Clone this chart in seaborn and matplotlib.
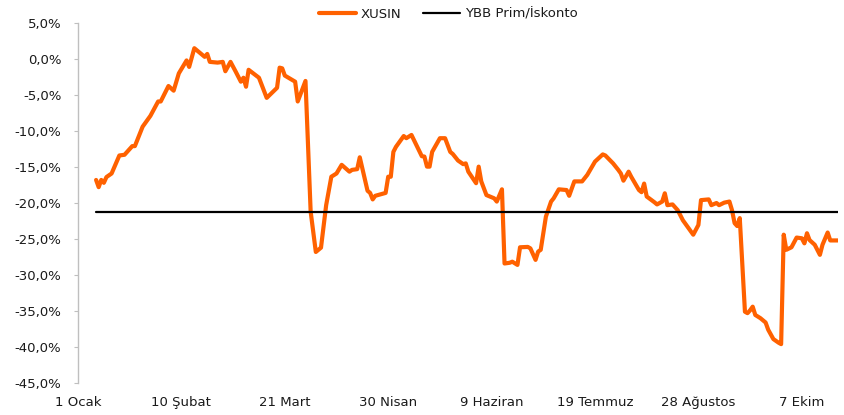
import matplotlib
matplotlib.use("Agg")
import matplotlib.pyplot as plt
import matplotlib.ticker as mticker
import seaborn as sns
import pandas as pd

# ---- data ----
start_date = "2016-01-01"
days = [7, 8, 9, 10, 11, 13, 16, 18, 21, 22, 25, 28, 31, 32, 35, 37, 39, 42, 43, 45,
        49, 50, 51, 54, 56, 57, 59, 61, 63, 64, 65, 66, 70, 73, 77, 78, 79, 80, 84, 85,
        88, 90, 92, 94, 96, 98, 100, 102, 105, 106, 108, 109, 112, 113, 114, 115, 119, 120, 121, 122,
        123, 126, 127, 129, 133, 134, 135, 136, 137, 140, 142, 144, 145, 147, 149, 150, 151, 154, 155, 156,
        158, 161, 162, 164, 165, 167, 168, 170, 171, 174, 175, 177, 178, 179, 181, 183, 184, 186, 189, 190,
        192, 195, 197, 200, 203, 204, 207, 209, 210, 211, 213, 214, 217, 218, 219, 220, 223, 224, 226, 227,
        228, 230, 232, 234, 236, 238, 240, 241, 244, 245, 247, 248, 250, 252, 253, 254, 255, 256, 258, 259,
        260, 261, 262, 264, 266, 267, 269, 271, 272, 273, 274, 276, 278, 280, 281, 282, 283, 285, 287, 288,
        290, 291, 294]
xusin = [-16.8, -17.8, -16.8, -17.2, -16.4, -15.9, -13.4, -13.3, -12.1, -12.1, -9.4, -7.9, -5.9, -5.9, -3.75, -4.4, -2.0, -0.2, -1.1, 1.5,
         0.3, 0.7, -0.4, -0.5, -0.4, -1.7, -0.4, -1.75, -3.15, -2.6, -3.85, -1.5, -2.6, -5.4, -4.0, -1.2, -1.3, -2.3, -3.15, -5.9,
         -3.05, -21.2, -26.8, -26.2, -20.3, -16.35, -15.9, -14.7, -15.65, -15.4, -15.3, -13.65, -18.3, -18.6, -19.5, -19.0, -18.6, -16.35, -16.35, -12.9,
         -12.2, -10.7, -11.0, -10.55, -13.5, -13.55, -14.95, -14.95, -12.9, -11.0, -11.0, -12.9, -13.2, -14.1, -14.6, -14.5, -15.65, -17.25, -14.95, -17.0,
         -18.9, -19.35, -19.8, -18.1, -28.4, -28.3, -28.15, -28.6, -26.15, -26.1, -26.3, -27.9, -26.75, -26.5, -21.9, -19.8, -19.35, -18.1, -18.2, -19.0,
         -17.0, -17.0, -16.1, -14.25, -13.25, -13.4, -14.5, -15.4, -15.9, -16.9, -15.65, -16.35, -18.2, -18.5, -17.3, -19.1, -19.9, -20.2, -19.8, -18.65,
         -20.3, -20.2, -21.0, -22.4, -23.4, -24.4, -23.05, -19.6, -19.5, -20.3, -20.0, -20.3, -19.95, -19.8, -21.0, -22.8, -23.2, -22.1, -35.1, -35.3,
         -34.9, -34.4, -35.55, -36.0, -36.6, -37.6, -38.9, -39.4, -39.6, -24.4, -26.5, -26.15, -24.8, -24.9, -25.6, -24.2, -25.15, -25.8, -27.2, -25.8,
         -24.1, -25.2, -25.2]
ybb_value = -21.3
tick_days = [0, 40, 80, 120, 160, 200, 240, 280]
tick_labels = ["1 Ocak", "10 Şubat", "21 Mart", "30 Nisan", "9 Haziran",
               "19 Temmuz", "28 Ağustos", "7 Ekim"]
y_ticks = [5, 0, -5, -10, -15, -20, -25, -30, -35, -40, -45]

# ---- build frame ----
t0 = pd.Timestamp(start_date)
dates = t0 + pd.to_timedelta(days, unit="D")
df = pd.DataFrame({"Tarih": dates, "XUSIN": xusin,
                   "YBB Prim/İskonto": [ybb_value] * len(days)})

sns.set_theme(style="white")
plt.rcParams["font.family"] = ["DejaVu Sans"]

fig = plt.figure(figsize=(8.44, 4.15), dpi=100)
ax = fig.add_axes([78 / 844, 1 - 383 / 415, (838 - 78) / 844, (383 - 23) / 415])

sns.lineplot(data=df, x="Tarih", y="XUSIN", ax=ax, color="#FF6100",
             linewidth=3.0, label="XUSIN")
sns.lineplot(data=df, x="Tarih", y="YBB Prim/İskonto", ax=ax, color="black",
             linewidth=1.6, label="YBB Prim/İskonto")

ax.set_xlim(t0, t0 + pd.Timedelta(days=294))
ax.set_ylim(-45, 5)
ax.set_xticks([t0 + pd.Timedelta(days=d) for d in tick_days])
ax.set_xticklabels(tick_labels)
ax.set_yticks(y_ticks)
ax.yaxis.set_major_formatter(mticker.FuncFormatter(
    lambda v, p: f"{v:.1f}%".replace(".", ",")))
ax.set_xlabel("")
ax.set_ylabel("")

for s in ["top", "right", "bottom"]:
    ax.spines[s].set_visible(False)
ax.spines["left"].set_color("#BFBFBF")
ax.spines["left"].set_linewidth(1.0)

ax.tick_params(axis="y", which="major", left=True, length=3, width=0.8,
               color="#BFBFBF", pad=9, labelsize=9.5, labelcolor="#1A1A1A")
ax.tick_params(axis="x", which="major", bottom=False, length=0, pad=9.5,
               labelsize=9.5, labelcolor="#1A1A1A")
ax.grid(False)

ax.legend_.remove()
handles, labels = ax.get_legend_handles_labels()
fig.legend(handles, labels, loc="upper center", bbox_to_anchor=(0.531, 1.01),
           ncol=2, frameon=False, fontsize=9.5, handlelength=2.8,
           columnspacing=1.6, handletextpad=0.4, labelcolor="#1A1A1A")

fig.savefig("out.png", dpi=100, facecolor="white")
